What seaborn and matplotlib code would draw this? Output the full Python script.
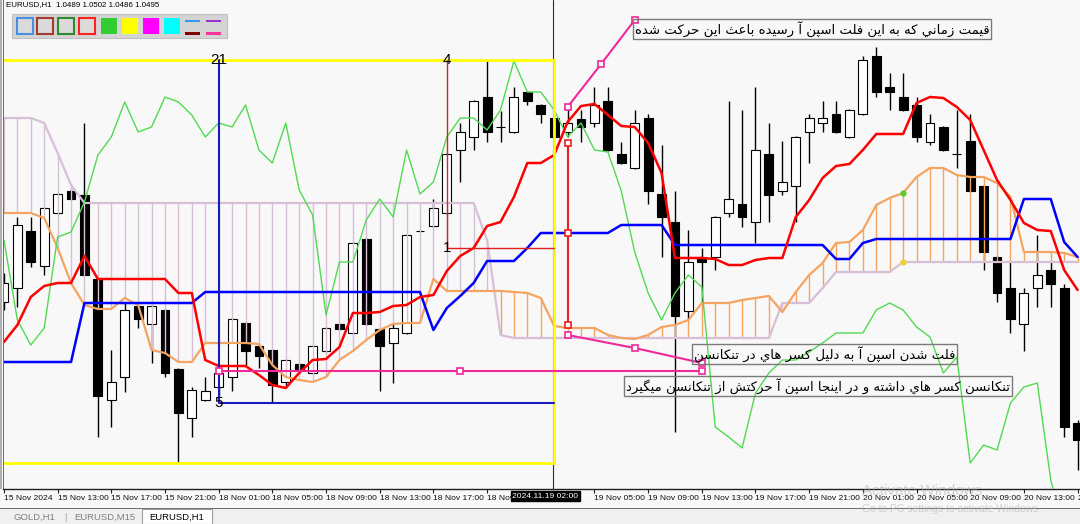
import numpy as np
import pandas as pd
import matplotlib
matplotlib.use('Agg')
import matplotlib.pyplot as plt
from matplotlib.patches import Rectangle
import seaborn as sns

# EURUSD H1, bar 0 = 15 Nov 2024 09:00
opens = [
    1.05396, 1.05424, 1.05538, 1.05468, 1.05574, 1.05618, 1.05610, 1.05442, 1.05200, 1.05246,
    1.05388, 1.05352, 1.05380, 1.05262, 1.05164, 1.05200, 1.05226, 1.05246, 1.05354, 1.05308,
    1.05300, 1.05236, 1.05272, 1.05254, 1.05298, 1.05352, 1.05334, 1.05522, 1.05342, 1.05314,
    1.05334, 1.05538, 1.05548, 1.05574, 1.05700, 1.05726, 1.05806, 1.05746, 1.05736, 1.05816,
    1.05790, 1.05764, 1.05736, 1.05762, 1.05754, 1.05798, 1.05692, 1.05664, 1.05764, 1.05612,
    1.05556, 1.05378, 1.05486, 1.05486, 1.05574, 1.05592, 1.05556, 1.05692, 1.05618, 1.05628,
    1.05736, 1.05754, 1.05772, 1.05726, 1.05772, 1.05888, 1.05826, 1.05806, 1.05790, 1.05716,
    1.05746, 1.05692, 1.05718, 1.05628, 1.05486, 1.05424, 1.05352, 1.05424, 1.05460, 1.05424,
    1.05154]
highs = [
    1.05454, 1.05566, 1.05566, 1.05586, 1.05614, 1.05622, 1.05754, 1.05444, 1.05300, 1.05394,
    1.05390, 1.05390, 1.05382, 1.05264, 1.05226, 1.05246, 1.05260, 1.05364, 1.05356, 1.05310,
    1.05302, 1.05282, 1.05274, 1.05310, 1.05346, 1.05354, 1.05516, 1.05524, 1.05344, 1.05354,
    1.05532, 1.05540, 1.05602, 1.05694, 1.05754, 1.05800, 1.05878, 1.05778, 1.05826, 1.05818,
    1.05792, 1.05766, 1.05790, 1.05780, 1.05826, 1.05826, 1.05716, 1.05780, 1.05772, 1.05710,
    1.05618, 1.05540, 1.05504, 1.05568, 1.05798, 1.05780, 1.05826, 1.05754, 1.05718, 1.05728,
    1.05772, 1.05798, 1.05798, 1.05782, 1.05888, 1.05906, 1.05854, 1.05854, 1.05806, 1.05772,
    1.05748, 1.05780, 1.05772, 1.05630, 1.05488, 1.05476, 1.05424, 1.05530, 1.05476, 1.05432,
    1.05160]
lows = [
    1.05380, 1.05386, 1.05466, 1.05450, 1.05572, 1.05600, 1.05448, 1.05126, 1.05146, 1.05216,
    1.05344, 1.05274, 1.05246, 1.05076, 1.05126, 1.05198, 1.05206, 1.05218, 1.05270, 1.05264,
    1.05194, 1.05226, 1.05258, 1.05252, 1.05296, 1.05340, 1.05332, 1.05350, 1.05218, 1.05234,
    1.05332, 1.05536, 1.05546, 1.05572, 1.05636, 1.05700, 1.05716, 1.05716, 1.05734, 1.05790,
    1.05754, 1.05724, 1.05726, 1.05716, 1.05746, 1.05698, 1.05672, 1.05662, 1.05592, 1.05486,
    1.05136, 1.05360, 1.05394, 1.05460, 1.05566, 1.05546, 1.05514, 1.05556, 1.05610, 1.05556,
    1.05674, 1.05736, 1.05734, 1.05724, 1.05770, 1.05806, 1.05780, 1.05778, 1.05716, 1.05710,
    1.05698, 1.05664, 1.05616, 1.05460, 1.05396, 1.05334, 1.05298, 1.05386, 1.05386, 1.05126,
    1.05060]
closes = [
    1.05434, 1.05550, 1.05476, 1.05584, 1.05612, 1.05602, 1.05450, 1.05208, 1.05236, 1.05380,
    1.05362, 1.05388, 1.05254, 1.05174, 1.05220, 1.05218, 1.05254, 1.05362, 1.05298, 1.05288,
    1.05230, 1.05280, 1.05260, 1.05308, 1.05344, 1.05342, 1.05514, 1.05352, 1.05308, 1.05344,
    1.05530, 1.05538, 1.05584, 1.05692, 1.05736, 1.05798, 1.05736, 1.05746, 1.05806, 1.05798,
    1.05772, 1.05726, 1.05754, 1.05746, 1.05790, 1.05700, 1.05674, 1.05754, 1.05618, 1.05566,
    1.05368, 1.05476, 1.05476, 1.05566, 1.05602, 1.05566, 1.05700, 1.05610, 1.05636, 1.05726,
    1.05764, 1.05764, 1.05736, 1.05780, 1.05880, 1.05816, 1.05816, 1.05780, 1.05726, 1.05754,
    1.05700, 1.05692, 1.05618, 1.05496, 1.05414, 1.05362, 1.05414, 1.05450, 1.05432, 1.05146,
    1.05120]

# ichimoku lines as drawn on the chart
tenkan = [
    1.05316, 1.05350, 1.05406, 1.05428, 1.05434, 1.05434, 1.05488, 1.05442, 1.05442, 1.05442,
    1.05442, 1.05442, 1.05442, 1.05414, 1.05414, 1.05280, 1.05268, 1.05268, 1.05268, 1.05250,
    1.05230, 1.05224, 1.05254, 1.05280, 1.05282, 1.05306, 1.05374, 1.05374, 1.05376, 1.05388,
    1.05390, 1.05406, 1.05410, 1.05458, 1.05488, 1.05504, 1.05548, 1.05556, 1.05606, 1.05674,
    1.05674, 1.05690, 1.05756, 1.05788, 1.05792, 1.05770, 1.05748, 1.05746, 1.05714, 1.05654,
    1.05484, 1.05484, 1.05484, 1.05482, 1.05470, 1.05470, 1.05480, 1.05484, 1.05484, 1.05566,
    1.05600, 1.05644, 1.05668, 1.05672, 1.05700, 1.05732, 1.05732, 1.05732, 1.05794, 1.05806,
    1.05804, 1.05786, 1.05760, 1.05700, 1.05640, 1.05600, 1.05554, 1.05540, 1.05538, 1.05460,
    1.05420]
kijun = [
    1.05276, 1.05276, 1.05276, 1.05276, 1.05276, 1.05276, 1.05394, 1.05394, 1.05394, 1.05394,
    1.05394, 1.05394, 1.05394, 1.05394, 1.05394, 1.05416, 1.05416, 1.05416, 1.05416, 1.05416,
    1.05416, 1.05416, 1.05416, 1.05416, 1.05416, 1.05416, 1.05416, 1.05416, 1.05416, 1.05416,
    1.05416, 1.05416, 1.05340, 1.05384, 1.05408, 1.05434, 1.05478, 1.05478, 1.05478, 1.05504,
    1.05534, 1.05534, 1.05534, 1.05534, 1.05534, 1.05534, 1.05550, 1.05550, 1.05550, 1.05550,
    1.05510, 1.05510, 1.05510, 1.05510, 1.05510, 1.05510, 1.05510, 1.05510, 1.05510, 1.05510,
    1.05510, 1.05510, 1.05482, 1.05482, 1.05514, 1.05522, 1.05522, 1.05522, 1.05522, 1.05522,
    1.05522, 1.05522, 1.05522, 1.05522, 1.05522, 1.05522, 1.05602, 1.05602, 1.05602, 1.05516,
    1.05486]
chikou = [
    1.05520, 1.05360, 1.05310, 1.05344, 1.05526, 1.05536, 1.05596, 1.05690, 1.05726, 1.05796,
    1.05736, 1.05746, 1.05806, 1.05796, 1.05770, 1.05726, 1.05754, 1.05746, 1.05790, 1.05700,
    1.05674, 1.05754, 1.05620, 1.05570, 1.05370, 1.05476, 1.05476, 1.05560, 1.05602, 1.05566,
    1.05700, 1.05612, 1.05636, 1.05726, 1.05764, 1.05764, 1.05740, 1.05780, 1.05878, 1.05816,
    1.05816, 1.05780, 1.05726, 1.05754, 1.05700, 1.05696, 1.05618, 1.05496, 1.05414, 1.05360,
    1.05414, 1.05450, 1.05426, 1.05146, 1.05126, 1.05104, 1.05214, 1.05254, 1.05280, 1.05280,
    1.05296, 1.05314, 1.05334, 1.05334, 1.05334, 1.05380, 1.05394, 1.05380, 1.05346, 1.05326,
    1.05254, 1.05286, 1.05074, 1.05110, 1.05100, 1.05194, 1.05226, 1.05234, 1.05040, 1.04940,
    1.04880]
span_a = [
    1.05574, 1.05574, 1.05574, 1.05564, 1.05504, 1.05434, 1.05390, 1.05382, 1.05382, 1.05404,
    1.05390, 1.05300, 1.05294, 1.05276, 1.05276, 1.05314, 1.05314, 1.05314, 1.05314, 1.05312,
    1.05270, 1.05246, 1.05240, 1.05236, 1.05246, 1.05280, 1.05298, 1.05320, 1.05340, 1.05352,
    1.05354, 1.05354, 1.05442, 1.05418, 1.05418, 1.05418, 1.05418, 1.05418, 1.05416, 1.05414,
    1.05404, 1.05348, 1.05344, 1.05344, 1.05344, 1.05330, 1.05324, 1.05322, 1.05330, 1.05346,
    1.05350, 1.05360, 1.05394, 1.05394, 1.05394, 1.05400, 1.05404, 1.05408, 1.05376, 1.05416,
    1.05450, 1.05474, 1.05514, 1.05516, 1.05540, 1.05590, 1.05604, 1.05614, 1.05646, 1.05664,
    1.05664, 1.05650, 1.05646, 1.05646, 1.05634, 1.05606, 1.05496, 1.05496, 1.05496, 1.05494,
    1.05486]
span_b = [
    1.05764, 1.05764, 1.05764, 1.05754, 1.05694, 1.05630, 1.05594, 1.05594, 1.05594, 1.05594,
    1.05594, 1.05594, 1.05594, 1.05594, 1.05594, 1.05594, 1.05594, 1.05594, 1.05594, 1.05594,
    1.05594, 1.05594, 1.05594, 1.05594, 1.05594, 1.05594, 1.05594, 1.05594, 1.05594, 1.05594,
    1.05594, 1.05594, 1.05594, 1.05594, 1.05594, 1.05594, 1.05520, 1.05330, 1.05324, 1.05324,
    1.05324, 1.05324, 1.05324, 1.05324, 1.05324, 1.05324, 1.05324, 1.05324, 1.05324, 1.05324,
    1.05324, 1.05324, 1.05324, 1.05324, 1.05324, 1.05324, 1.05324, 1.05324, 1.05394, 1.05394,
    1.05394, 1.05424, 1.05456, 1.05456, 1.05456, 1.05456, 1.05456, 1.05476, 1.05476, 1.05476,
    1.05476, 1.05476, 1.05476, 1.05476, 1.05476, 1.05476, 1.05476, 1.05476, 1.05476, 1.05476,
    1.05476]

tick_bars = [0, 4, 8, 12, 16, 20, 24, 28, 32, 36, 44, 48, 52, 56, 60, 64, 68, 72, 76, 80]
tick_labels = ['15 Nov 2024', '15 Nov 13:00', '15 Nov 17:00', '15 Nov 21:00', '18 Nov 01:00',
               '18 Nov 05:00', '18 Nov 09:00', '18 Nov 13:00', '18 Nov 17:00', '18 Nov 21:00',
               '19 Nov 05:00', '19 Nov 09:00', '19 Nov 13:00', '19 Nov 17:00', '19 Nov 21:00',
               '20 Nov 01:00', '20 Nov 05:00', '20 Nov 09:00', '20 Nov 13:00', '20 Nov 17:00']

# drawn objects (bar index, price)
box_top, box_bottom, box_end = 1.05880, 1.05074, 41
blue_bar, blue_low = 16, 1.05194
red_bar, red_low = 33, 1.05504
pink_level, pink_end = 1.05258, 52
seg_bar, seg_prices = 42, [1.05714, 1.05534, 1.05350]
pink_up_x, pink_up_y = [42, 44.5, 47], [1.05786, 1.05872, 1.05960]
pink_dn_x, pink_dn_y = [42, 47, 52], [1.05330, 1.05304, 1.05274]

note1 = 'قيمت زماني كه به اين فلت اسپن آ رسيده باعث اين حركت شده'
note2 = 'فلت شدن اسپن آ به دليل كسر هاي در تنكانسن'
note3 = 'تنكانسن كسر هاي داشته و در اينجا اسپن آ حركتش از تنكانسن ميگيرد'

# contextual forms (isolated code, number of forms) so matplotlib joins the letters
forms = {
    'ا': (0xFE8D, 2), 'آ': (0xFE81, 2), 'ب': (0xFE8F, 4), 'ت': (0xFE95, 4),
    'ث': (0xFE99, 4), 'ج': (0xFE9D, 4), 'ح': (0xFEA1, 4), 'د': (0xFEA9, 2),
    'ر': (0xFEAD, 2), 'ز': (0xFEAF, 2), 'س': (0xFEB1, 4), 'ش': (0xFEB5, 4),
    'ع': (0xFEC9, 4), 'ف': (0xFED1, 4), 'ق': (0xFED5, 4), 'ك': (0xFED9, 4),
    'ل': (0xFEDD, 4), 'م': (0xFEE1, 4), 'ن': (0xFEE5, 4), 'ه': (0xFEE9, 4),
    'و': (0xFEED, 2), 'ي': (0xFEF1, 4), 'پ': (0xFB56, 4), 'گ': (0xFB92, 4),
}


def shape(text):
    out = []
    for i, ch in enumerate(text):
        if ch not in forms:
            out.append(ch)
            continue
        base, n = forms[ch]
        prev = text[i - 1] if i > 0 else ''
        nxt = text[i + 1] if i + 1 < len(text) else ''
        jp = prev in forms and forms[prev][1] == 4
        jn = n == 4 and nxt in forms
        k = 3 if (jp and jn) else 1 if jp else 2 if jn else 0
        out.append(chr(base + k))
    return ''.join(reversed(out))


BG = '#F8F8F8'
ORANGE = '#F4A460'
THISTLE = '#D8BFD8'
PINK = '#F0289A'

sns.set_theme(style='white', rc={'axes.facecolor': BG, 'figure.facecolor': BG})
plt.rcParams['font.family'] = ['Liberation Sans', 'DejaVu Sans']

df = pd.DataFrame({'bar': np.arange(len(closes)), 'open': opens, 'high': highs, 'low': lows,
                   'close': closes, 'tenkan': tenkan, 'kijun': kijun, 'chikou': chikou,
                   'span_a': span_a, 'span_b': span_b})

fig = plt.figure(figsize=(10.8, 5.24), dpi=100)
ax = fig.add_axes([3 / 1080, 35 / 524, 1077 / 1080, 489 / 524])

# candles
up = df['close'] >= df['open']
ax.vlines(df['bar'], df['low'], df['high'], color='black', lw=1, zorder=2)
ax.bar(df['bar'], (df['close'] - df['open']).abs(), bottom=df[['open', 'close']].min(axis=1),
       width=0.66, color=np.where(up, 'white', 'black'), edgecolor='black', linewidth=0.8, zorder=2.5)

# kumo hatching + spans
hatch = np.where(df['span_a'] > df['span_b'], ORANGE, THISTLE)
ax.vlines(df['bar'], df['span_a'], df['span_b'], colors=hatch, lw=1, zorder=3)
sns.lineplot(data=df, x='bar', y='span_b', color=THISTLE, lw=1.6, ax=ax, zorder=3.2)
sns.lineplot(data=df, x='bar', y='span_a', color=ORANGE, lw=1.6, ax=ax, zorder=3.3)
sns.lineplot(data=df, x='bar', y='chikou', color='#52DA52', lw=1, ax=ax, zorder=4)
sns.lineplot(data=df, x='bar', y='kijun', color='#0000FF', lw=1.8, ax=ax, zorder=4.1)
sns.lineplot(data=df, x='bar', y='tenkan', color='#FF0000', lw=1.8, ax=ax, zorder=4.2)
ax.plot([67], [span_a[67]], 'o', color='#5BCB2E', ms=3.5, zorder=4.3)
ax.plot([67], [span_b[67]], 'o', color='#F0D030', ms=3.5, zorder=4.3)

ax.set_xlim(-0.07, 80.18)
ax.set_ylim(1.05022, 1.06000)

# crosshair + yellow box
ax.axvline(box_end - 0.12, color='#303030', lw=0.8, zorder=5)
ax.plot([-1, box_end], [box_top, box_top], color='#FFFF00', lw=2, zorder=5.5)
ax.plot([-1, box_end], [box_bottom, box_bottom], color='#FFFF00', lw=2, zorder=5.5)
ax.plot([box_end, box_end], [box_top, box_bottom], color='#FFFF00', lw=2, zorder=5.5)

# time/price lines
ax.plot([blue_bar, blue_bar, box_end], [box_top, blue_low, blue_low], color='#1A1AC0', lw=1.5, zorder=6)
ax.plot([red_bar, red_bar, box_end], [box_top, red_low, red_low], color='#E02020', lw=1, zorder=6)
ax.text(blue_bar, box_top, '21', ha='center', va='center', fontsize=11, color='black', zorder=7)
ax.text(blue_bar, blue_low, '5', ha='center', va='center', fontsize=11, color='black', zorder=7)
ax.text(red_bar, box_top, '4', ha='center', va='center', fontsize=11, color='black', zorder=7)
ax.text(red_bar, red_low, '1', ha='center', va='center', fontsize=11, color='black', zorder=7)

mk = dict(marker='s', ms=4.5, mfc='white', mew=1.2, zorder=6.5)
ax.plot([blue_bar, 34, pink_end], [pink_level] * 3, color=PINK, lw=1.5, **mk)
ax.plot([seg_bar] * 3, seg_prices, color='#E82020', lw=1.5, **mk)
ax.plot(pink_up_x, pink_up_y, color=PINK, lw=1.5, **mk)
ax.plot(pink_dn_x, pink_dn_y, color=PINK, lw=1.5, **mk)

note_box = dict(boxstyle='square,pad=0.12', fc='none', ec='#7A7A7A', lw=1)
for x, y, s in [(47, 1.05958, note1), (51.4, 1.05308, note2), (46.35, 1.05244, note3)]:
    ax.text(x, y, shape(s), ha='left', va='top', fontsize=9.5, family=['DejaVu Sans'],
            color='black', bbox=note_box, zorder=7)

# axes cosmetics
ax.set_xlabel('')
ax.set_ylabel('')
ax.set_yticks([])
ax.set_xticks(tick_bars)
ax.set_xticklabels(tick_labels)
for lbl in ax.get_xticklabels():
    lbl.set_ha('left')
ax.tick_params(axis='x', bottom=True, direction='out', length=3, width=0.8, color='#202020',
               pad=1.5, labelsize=6.1, labelcolor='#101010')
for side in ['top', 'right', 'left']:
    ax.spines[side].set_visible(False)
ax.spines['bottom'].set_color('#202020')
ax.spines['bottom'].set_linewidth(1)


def fr(x0, y0, x1, y1, **kw):
    fig.add_artist(Rectangle((x0 / 1080, 1 - y1 / 524), (x1 - x0) / 1080, (y1 - y0) / 524,
                             transform=fig.transFigure, **kw))


def ft(x, y, s, **kw):
    fig.text(x / 1080, 1 - y / 524, s, **kw)


# left frame
fr(0, 0, 2, 489, fc='#B0B0B0', ec='none')
fr(2.5, 0, 3.5, 489, fc='#707070', ec='none')

# header + toolbar
ft(6, 5, 'EURUSD,H1  1.0489 1.0502 1.0486 1.0495', fontsize=5.7, va='center', color='black')
fr(12, 14, 227, 38, fc='#D4D4D4', ec='#C0C0C0', lw=0.8)
for x0, ec in [(17, '#4A90E2'), (37, '#A53A30'), (58, '#2E8B2E'), (79, '#FF2020')]:
    fr(x0, 18.5, x0 + 15.5, 34, fc='#DADADA', ec=ec, lw=1.5)
for x0, fc in [(101, '#33CC33'), (122, '#FFFF00'), (143, '#FF00FF'), (164, '#00FFFF')]:
    fr(x0, 18.5, x0 + 15.5, 34, fc=fc, ec='none')
for x0, c1, c2 in [(185, '#3399EE', '#800000'), (206, '#9933CC', '#FF3399')]:
    fr(x0, 19.5, x0 + 15, 22, fc=c1, ec='none')
    fr(x0, 32, x0 + 15, 34.5, fc=c2, ec='none')

# crosshair time label
ft(545.5, 496, '2024.11.19 02:00', fontsize=6.1, ha='center', va='center', color='white',
   bbox=dict(boxstyle='square,pad=0.2', fc='black', ec='black'), zorder=5)

# tab bar
fr(0, 508, 1080, 524, fc='#F0F0F0', ec='none')
fr(0, 508, 1080, 509, fc='#707070', ec='none')
fr(142, 508.5, 212, 524, fc='white', ec='#A0A0A0', lw=0.8)
ft(14, 517, 'GOLD,H1', fontsize=6.8, va='center', color='#808080')
ft(64, 517, '|', fontsize=6.8, va='center', color='#A0A0A0')
ft(74, 517, 'EURUSD,M15', fontsize=6.8, va='center', color='#808080')
ft(177, 517, 'EURUSD,H1', fontsize=6.8, ha='center', va='center', color='black')

# watermark
ft(862, 491, 'Activate Windows', fontsize=11, va='center', color='#B0B0B0', alpha=0.55)
ft(862, 509, 'Go to PC settings to activate Windows.', fontsize=7.5, va='center',
   color='#B0B0B0', alpha=0.55)

fig.savefig('out.png', dpi=100, facecolor=BG)
